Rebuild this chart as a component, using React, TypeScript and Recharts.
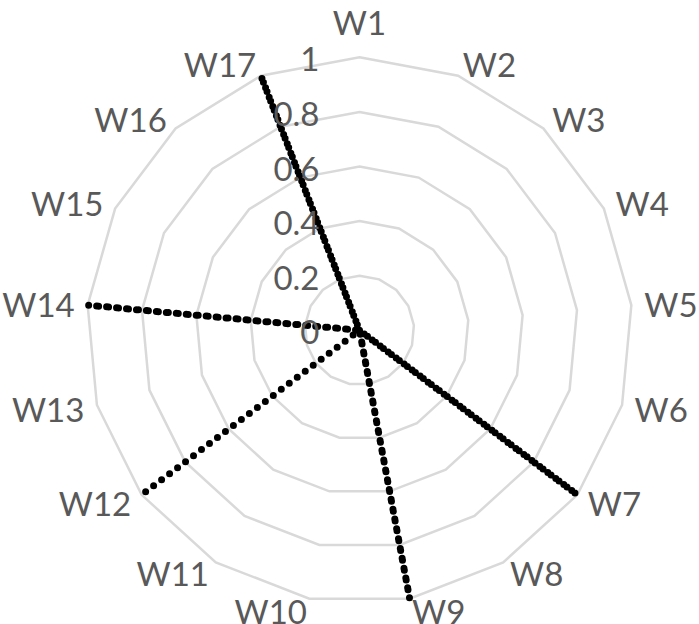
import React from "react";
import { RadarChart, Radar, PolarGrid, PolarAngleAxis, PolarRadiusAxis } from "recharts";

const categories = ["W1","W2","W3","W4","W5","W6","W7","W8","W9","W10","W11","W12","W13","W14","W15","W16","W17"];
const values = [0,0,0,0,0,0,1,0,1,0,0,1,0,1,0,0,1];
const radiusTicks = [0, 0.2, 0.4, 0.6, 0.8, 1];

const data = categories.map((c, i) => ({ name: c, value: values[i] }));

const CX = 359.5;
const CY = 330.3;
const R = 273;
const FONT = "Lato, 'Open Sans', sans-serif";
const TEXT_COLOR = "#595959";

const AngleTick = (props: any) => {
  const { x, y, payload } = props;
  const dx = x - CX;
  const dy = y - CY;
  const d = Math.sqrt(dx * dx + dy * dy) || 1;
  const ux = dx / d;
  const uy = dy / d;
  let px = x + ux * 5;
  let py = y + uy * 5;
  let anchor: "start" | "end" | "middle" = "middle";
  if (ux > 0.1) anchor = "start";
  else if (ux < -0.1) anchor = "end";
  else py -= 22;
  return (
    <text x={px} y={py} textAnchor={anchor} dominantBaseline="central" fill={TEXT_COLOR} fontSize={33} fontFamily={FONT}>
      {payload.value}
    </text>
  );
};

const RadiusTick = (props: any) => {
  const { x, y, payload } = props;
  return (
    <text x={x - 40} y={y + 1} textAnchor="end" dominantBaseline="central" fill={TEXT_COLOR} fontSize={33} fontFamily={FONT}>
      {payload.value}
    </text>
  );
};

export default function App() {
  return (
    <div style={{ position: "absolute", left: 0, top: 0, width: 699, height: 624, overflow: "hidden", background: "#ffffff" }}>
      <RadarChart
        width={699}
        height={624}
        data={data}
        cx={CX}
        cy={CY}
        outerRadius={R}
        startAngle={90}
        endAngle={-270}
        margin={{ top: 0, right: 0, bottom: 0, left: 0 }}
      >
        <PolarGrid gridType="polygon" radialLines={false} stroke="#d9d9d9" strokeWidth={2.5} />
        <PolarAngleAxis dataKey="name" tick={<AngleTick />} axisLine={false} tickLine={false} />
        <PolarRadiusAxis
          angle={90}
          domain={[0, 1]}
          ticks={radiusTicks as any}
          tickCount={6}
          axisLine={false}
          tickLine={false}
          tick={<RadiusTick />}
        />
        <Radar
          dataKey="value"
          stroke="#000000"
          strokeWidth={7}
          strokeDasharray="0 10"
          strokeLinecap="round"
          fill="none"
          fillOpacity={0}
          dot={false}
          isAnimationActive={false}
        />
      </RadarChart>
    </div>
  );
}
